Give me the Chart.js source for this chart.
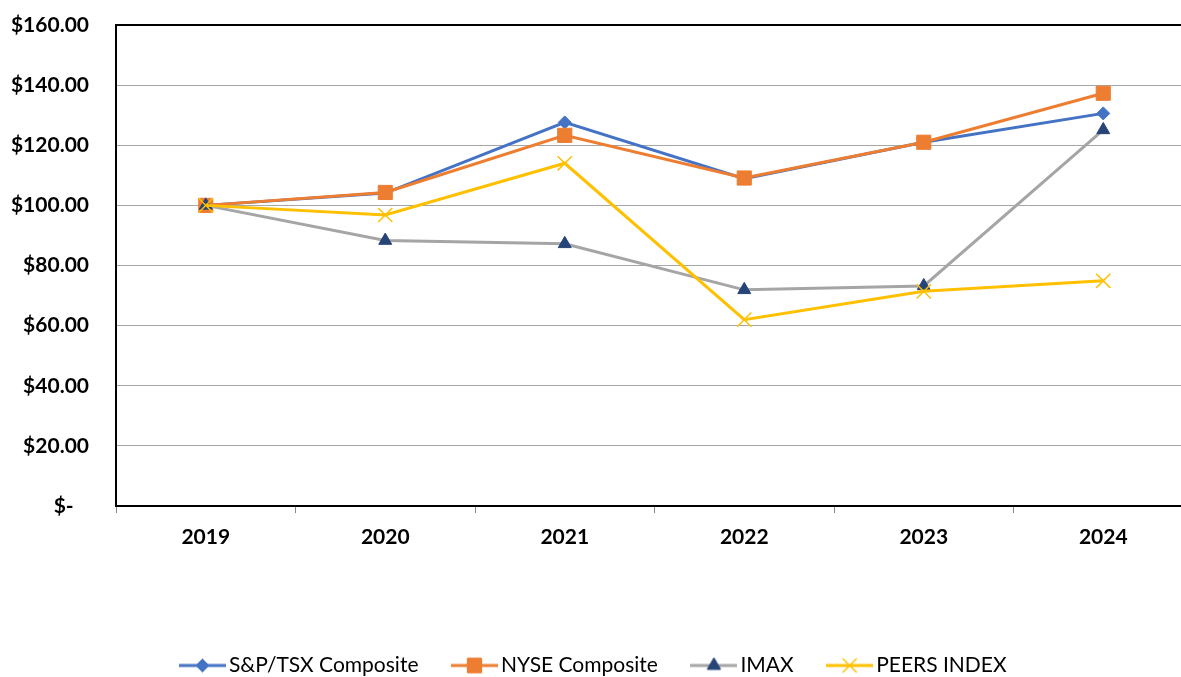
<!DOCTYPE html>
<html>
<head>
<meta charset="utf-8">
<script src="https://cdn.jsdelivr.net/npm/chart.js@4"></script>
<style>
  html, body { margin: 0; padding: 0; background: #fff; overflow: hidden; }
  #wrap { width: 1200px; height: 686px; }
</style>
</head>
<body>
<div id="wrap"><canvas id="perf-chart"></canvas></div>
<script>
// data
let years = ['2019', '2020', '2021', '2022', '2023', '2024']
let tsx = [100, 104.1, 127.6, 108.9, 121.0, 130.6]
let nyse = [100, 104.3, 123.3, 109.1, 121.0, 137.3]
let imax = [100, 88.3, 87.2, 71.9, 73.2, 125.1]
let peers = [100, 96.8, 114.0, 62.0, 71.4, 74.9]
let yTicks = [0, 20, 40, 60, 80, 100, 120, 140, 160]

let fontName = 'Lato, "Noto Sans", sans-serif'

// little line + marker picture for each legend entry
function legendSwatch(lineColor, markerColor, style, radius) {
    let c = document.createElement('canvas')
    c.width = 47
    c.height = 20
    let g = c.getContext('2d')
    g.strokeStyle = lineColor
    g.lineWidth = 3
    g.beginPath()
    g.moveTo(0, 10)
    g.lineTo(47, 10)
    g.stroke()
    g.fillStyle = markerColor
    g.strokeStyle = markerColor
    g.beginPath()
    if (style == 'crossRot') {
        g.lineWidth = 1.5
        let s = radius * Math.SQRT1_2
        g.moveTo(23.5 - s, 10 - s); g.lineTo(23.5 + s, 10 + s)
        g.moveTo(23.5 - s, 10 + s); g.lineTo(23.5 + s, 10 - s)
        g.stroke()
    } else {
        g.lineWidth = 1
        Chart.helpers.drawPoint(g, {pointStyle: style, radius: radius, borderWidth: 1, rotation: 0}, 23.5, 10)
        g.fill()
        g.stroke()
    }
    return c
}

function makeSeries(label, data, lineColor, markerColor, style, radius, order) {
    return {
        label: label,
        data: data,
        borderColor: lineColor,
        backgroundColor: markerColor,
        borderWidth: 3,
        pointStyle: style,
        pointRadius: radius,
        pointHoverRadius: radius,
        pointBackgroundColor: markerColor,
        pointBorderColor: markerColor,
        pointBorderWidth: style == 'crossRot' ? 1.5 : 1,
        tension: 0,
        order: order,
        swatch: legendSwatch(lineColor, markerColor, style, radius)
    }
}

let datasets = [
    makeSeries('S&P/TSX Composite', tsx, '#4472C4', '#4472C4', 'rectRot', 6.5, 3),
    makeSeries('NYSE Composite', nyse, '#ED7D31', '#ED7D31', 'rect', 10, 2),
    makeSeries('IMAX', imax, '#A5A5A5', '#264478', 'triangle', 7.5, 1),
    makeSeries('PEERS INDEX', peers, '#FFC000', '#FFC000', 'crossRot', 10, 0)
]

let ctx = document.querySelector('#perf-chart').getContext('2d')

let perfChart = new Chart(ctx, {
    type: 'line',
    data: { labels: years, datasets: datasets },
    options: {
        responsive: true,
        maintainAspectRatio: false,
        animation: false,
        devicePixelRatio: 1,
        layout: { autoPadding: false, padding: { top: 25, right: 7, left: 0, bottom: 0 } },
        plugins: {
            tooltip: { enabled: false },
            legend: {
                position: 'bottom',
                labels: {
                    usePointStyle: true,
                    pointStyleWidth: 32,
                    padding: 40,
                    color: '#222',
                    font: { family: fontName, size: 21 },
                    sort: (a, b) => a.datasetIndex - b.datasetIndex,
                    generateLabels: function(chart) {
                        return chart.data.datasets.map((ds, i) => ({
                            text: ds.label,
                            pointStyle: ds.swatch,
                            fillStyle: ds.borderColor,
                            strokeStyle: ds.borderColor,
                            lineWidth: 0,
                            hidden: false,
                            datasetIndex: i
                        }))
                    }
                }
            }
        },
        scales: {
            x: {
                offset: true,
                border: { color: '#000', width: 2 },
                grid: { offset: true, drawOnChartArea: false, drawTicks: true, tickLength: 7, color: '#888' },
                ticks: { color: '#000', padding: 12, font: { family: fontName, size: 21, weight: 'bold' } },
                afterFit: function(scale) { scale.height = 109 }
            },
            y: {
                min: 0,
                max: 160,
                afterBuildTicks: function(scale) { scale.ticks = yTicks.map(v => ({ value: v })) },
                border: { color: '#000', width: 2 },
                grid: {
                    drawTicks: true,
                    tickLength: 26,
                    tickColor: 'rgba(0,0,0,0)',
                    color: ctx2 => ctx2.tick && ctx2.tick.value == 160 ? '#000' : '#A6A6A6',
                    lineWidth: ctx2 => ctx2.tick && ctx2.tick.value == 160 ? 2 : 1
                },
                ticks: {
                    color: '#000',
                    padding: 1,
                    font: { family: fontName, size: 21, weight: 'bold' },
                    callback: function(v) { return v == 0 ? '$-   ' : '$' + v.toFixed(2) }
                },
                afterFit: function(scale) { scale.width = 116 }
            }
        }
    }
})
</script>
</body>
</html>
